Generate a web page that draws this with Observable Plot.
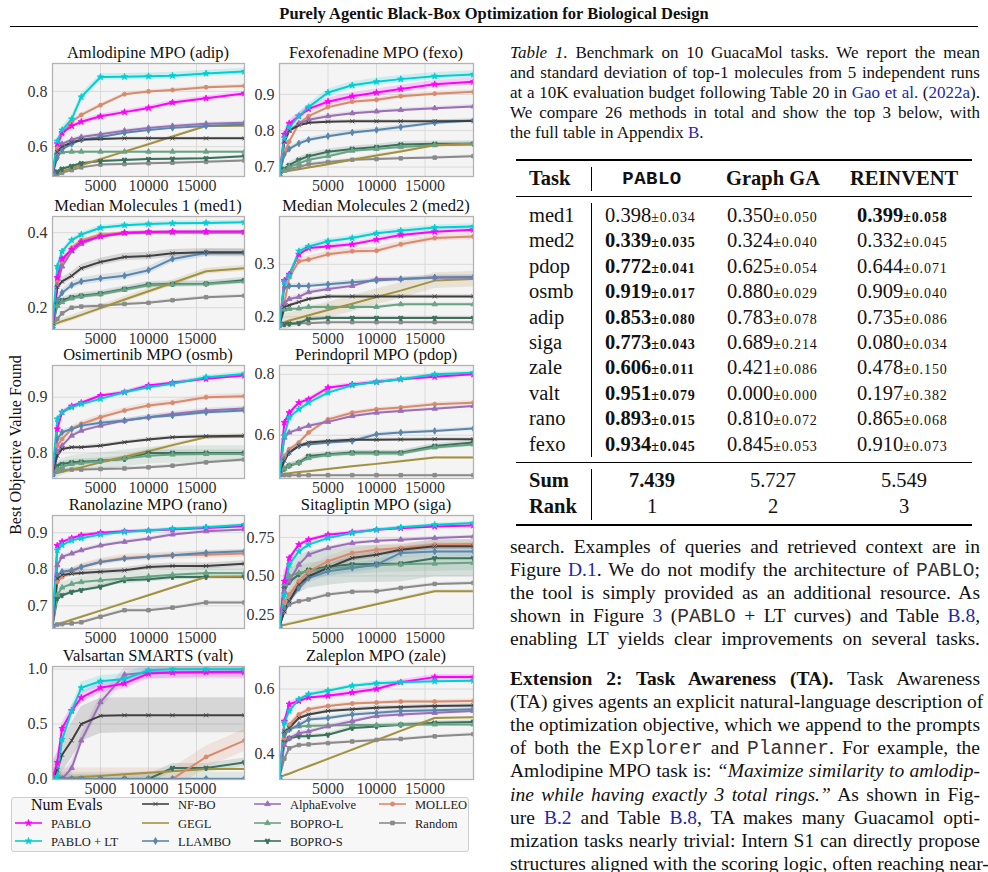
<!DOCTYPE html>
<html><head><meta charset="utf-8">
<script src="https://cdn.jsdelivr.net/npm/d3@7"></script>
<script src="https://cdn.jsdelivr.net/npm/@observablehq/plot@0.6"></script>
<style>
html,body{margin:0;padding:0;background:#fff;}
#page{position:relative;width:988px;height:872px;overflow:hidden;font-family:"Liberation Serif","Times New Roman",serif;color:#111;}
.abs{position:absolute;}
.jl{position:absolute;left:510px;width:470px;white-space:nowrap;text-align:justify;text-align-last:justify;}
.mono{font-family:"Liberation Mono","DejaVu Sans Mono",monospace;color:#333;}
.lnk{color:#2626a8;}
.sd{font-size:14px;letter-spacing:0.9px;}
</style></head><body><div id="page"></div><script>
// ---------------- DATA ----------------
const evals = [0, 500, 1000, 2000, 3000, 5000, 7500, 10000, 12500, 16000, 20000];
const methods = ["PABLO", "PABLO + LT", "NF-BO", "GEGL", "LLAMBO", "AlphaEvolve", "BOPRO-L", "BOPRO-S", "MOLLEO", "Random"];
const colors = ["#ff00ff", "#00cfd2", "#404040", "#a3913f", "#5a86ad", "#9a6fb8", "#6aa383", "#3b715d", "#d98a6c", "#8a8a8a"];
const symbolsList = ["star", "star", "times", "circle", "diamond", "triangle", "triangle", "wye", "circle", "square"];

const taskKeys = ["adip", "fexo", "med1", "med2", "osmb", "pdop", "rano", "siga", "valt", "zale"];
const taskTitles = ["Amlodipine MPO (adip)", "Fexofenadine MPO (fexo)", "Median Molecules 1 (med1)", "Median Molecules 2 (med2)", "Osimertinib MPO (osmb)", "Perindopril MPO (pdop)", "Ranolazine MPO (rano)", "Sitagliptin MPO (siga)", "Valsartan SMARTS (valt)", "Zaleplon MPO (zale)"];
const yTicks = [[0.6, 0.8], [0.7, 0.8, 0.9], [0.2, 0.4], [0.2, 0.3], [0.8, 0.9], [0.6, 0.8], [0.7, 0.8, 0.9], [0.25, 0.5, 0.75], [0, 0.5, 1], [0.4, 0.6]];
const yFormats = [".1f", ".1f", ".1f", ".1f", ".1f", ".1f", ".1f", ".2f", ".1f", ".1f"];
const yDomains = [[0.492, 0.901], [0.674, 0.985], [0.142, 0.443], [0.176, 0.391], [0.754, 0.957], [0.458, 0.829], [0.638, 0.947], [0.159, 0.892], [-0.005, 1.024], [0.319, 0.67]];
const xTicks = [5000, 10000, 15000];

// order: PABLO, PABLO+LT, NF-BO, GEGL, LLAMBO, AlphaEvolve, BOPRO-L, BOPRO-S, MOLLEO, Random
const adip = [
  [0.50, 0.61, 0.65, 0.675, 0.69, 0.71, 0.725, 0.74, 0.76, 0.775, 0.793],
  [0.50, 0.62, 0.66, 0.70, 0.78, 0.852, 0.853, 0.855, 0.857, 0.865, 0.872],
  [0.50, 0.58, 0.60, 0.615, 0.625, 0.628, 0.63, 0.63, 0.63, 0.63, 0.63],
  [0.50, 0.505, 0.511, 0.522, 0.533, 0.555, 0.582, 0.609, 0.637, 0.675, 0.676],
  [0.50, 0.56, 0.59, 0.61, 0.625, 0.635, 0.65, 0.66, 0.668, 0.675, 0.68],
  [0.50, 0.58, 0.61, 0.625, 0.635, 0.645, 0.658, 0.668, 0.675, 0.683, 0.687],
  [0.50, 0.575, 0.58, 0.582, 0.582, 0.582, 0.582, 0.582, 0.582, 0.582, 0.582],
  [0.50, 0.51, 0.52, 0.53, 0.54, 0.548, 0.552, 0.555, 0.556, 0.558, 0.565],
  [0.50, 0.60, 0.645, 0.69, 0.715, 0.75, 0.79, 0.80, 0.805, 0.815, 0.82],
  [0.49, 0.50, 0.505, 0.515, 0.525, 0.535, 0.537, 0.54, 0.542, 0.545, 0.55]
];
const fexo = [
  [0.68, 0.79, 0.82, 0.84, 0.86, 0.88, 0.895, 0.905, 0.915, 0.928, 0.935],
  [0.68, 0.78, 0.81, 0.84, 0.865, 0.905, 0.925, 0.935, 0.942, 0.95, 0.955],
  [0.68, 0.77, 0.80, 0.815, 0.822, 0.825, 0.826, 0.826, 0.826, 0.826, 0.827],
  [0.685, 0.687, 0.69, 0.694, 0.699, 0.708, 0.72, 0.732, 0.743, 0.76, 0.762],
  [0.68, 0.735, 0.75, 0.765, 0.775, 0.785, 0.795, 0.802, 0.81, 0.822, 0.828],
  [0.68, 0.77, 0.80, 0.82, 0.83, 0.84, 0.848, 0.853, 0.857, 0.862, 0.867],
  [0.68, 0.69, 0.70, 0.71, 0.72, 0.73, 0.745, 0.75, 0.755, 0.76, 0.765],
  [0.68, 0.695, 0.705, 0.72, 0.73, 0.742, 0.75, 0.755, 0.762, 0.764, 0.764],
  [0.68, 0.74, 0.77, 0.82, 0.84, 0.865, 0.88, 0.885, 0.895, 0.902, 0.907],
  [0.68, 0.692, 0.695, 0.70, 0.708, 0.714, 0.72, 0.722, 0.724, 0.726, 0.73]
];
const med1 = [
  [0.15, 0.28, 0.33, 0.355, 0.375, 0.39, 0.40, 0.402, 0.403, 0.403, 0.403],
  [0.15, 0.31, 0.35, 0.38, 0.395, 0.413, 0.42, 0.423, 0.425, 0.426, 0.428],
  [0.15, 0.255, 0.27, 0.285, 0.305, 0.322, 0.335, 0.338, 0.345, 0.348, 0.348],
  [0.155, 0.159, 0.164, 0.172, 0.181, 0.199, 0.222, 0.244, 0.266, 0.297, 0.305],
  [0.15, 0.22, 0.24, 0.26, 0.27, 0.278, 0.285, 0.30, 0.33, 0.346, 0.345],
  [0.15, 0.26, 0.31, 0.35, 0.37, 0.39, 0.398, 0.40, 0.40, 0.40, 0.40],
  [0.15, 0.205, 0.215, 0.225, 0.23, 0.236, 0.248, 0.26, 0.262, 0.263, 0.27],
  [0.15, 0.21, 0.22, 0.228, 0.232, 0.238, 0.25, 0.262, 0.263, 0.264, 0.273],
  [0.15, 0.27, 0.32, 0.36, 0.38, 0.395, 0.40, 0.402, 0.402, 0.402, 0.402],
  [0.15, 0.17, 0.185, 0.20, 0.203, 0.205, 0.21, 0.213, 0.22, 0.228, 0.232]
];
const med2 = [
  [0.185, 0.269, 0.281, 0.319, 0.331, 0.334, 0.338, 0.347, 0.356, 0.362, 0.366],
  [0.185, 0.266, 0.278, 0.325, 0.334, 0.344, 0.35, 0.359, 0.364, 0.37, 0.372],
  [0.185, 0.219, 0.222, 0.228, 0.234, 0.239, 0.239, 0.239, 0.239, 0.239, 0.239],
  [0.188, 0.19, 0.193, 0.198, 0.203, 0.213, 0.225, 0.238, 0.25, 0.269, 0.272],
  [0.185, 0.256, 0.259, 0.259, 0.259, 0.262, 0.266, 0.269, 0.272, 0.275, 0.276],
  [0.185, 0.225, 0.234, 0.238, 0.247, 0.253, 0.259, 0.272, 0.272, 0.275, 0.275],
  [0.185, 0.214, 0.215, 0.216, 0.219, 0.219, 0.219, 0.219, 0.224, 0.224, 0.224],
  [0.185, 0.186, 0.187, 0.188, 0.196, 0.198, 0.198, 0.198, 0.198, 0.198, 0.198],
  [0.185, 0.225, 0.275, 0.306, 0.309, 0.319, 0.325, 0.326, 0.338, 0.35, 0.353],
  [0.185, 0.186, 0.187, 0.188, 0.188, 0.19, 0.19, 0.19, 0.19, 0.19, 0.19]
];
const osmb = [
  [0.762, 0.843, 0.873, 0.884, 0.89, 0.903, 0.909, 0.921, 0.926, 0.933, 0.939],
  [0.762, 0.861, 0.873, 0.882, 0.888, 0.897, 0.909, 0.918, 0.924, 0.936, 0.942],
  [0.762, 0.795, 0.807, 0.81, 0.81, 0.813, 0.819, 0.824, 0.828, 0.83, 0.831],
  [0.762, 0.764, 0.766, 0.77, 0.774, 0.783, 0.793, 0.803, 0.814, 0.828, 0.829],
  [0.762, 0.825, 0.837, 0.843, 0.849, 0.854, 0.858, 0.864, 0.867, 0.873, 0.876],
  [0.762, 0.801, 0.813, 0.831, 0.84, 0.849, 0.858, 0.864, 0.87, 0.876, 0.88],
  [0.762, 0.77, 0.775, 0.78, 0.782, 0.785, 0.79, 0.795, 0.797, 0.798, 0.798],
  [0.762, 0.777, 0.78, 0.783, 0.784, 0.786, 0.789, 0.80, 0.80, 0.80, 0.80],
  [0.762, 0.813, 0.825, 0.843, 0.852, 0.864, 0.876, 0.885, 0.89, 0.90, 0.902],
  [0.762, 0.768, 0.769, 0.77, 0.77, 0.771, 0.772, 0.774, 0.777, 0.783, 0.788]
];
const pdop = [
  [0.472, 0.642, 0.674, 0.707, 0.718, 0.756, 0.767, 0.775, 0.784, 0.792, 0.80],
  [0.472, 0.598, 0.658, 0.685, 0.707, 0.74, 0.764, 0.775, 0.784, 0.80, 0.805],
  [0.472, 0.516, 0.543, 0.565, 0.576, 0.581, 0.585, 0.585, 0.586, 0.587, 0.587],
  [0.472, 0.474, 0.475, 0.479, 0.482, 0.489, 0.498, 0.506, 0.515, 0.527, 0.527],
  [0.472, 0.521, 0.543, 0.565, 0.57, 0.576, 0.581, 0.603, 0.609, 0.614, 0.622],
  [0.472, 0.592, 0.609, 0.62, 0.631, 0.644, 0.663, 0.674, 0.68, 0.687, 0.696],
  [0.472, 0.49, 0.50, 0.51, 0.525, 0.535, 0.54, 0.54, 0.54, 0.56, 0.57],
  [0.472, 0.49, 0.50, 0.51, 0.532, 0.538, 0.543, 0.543, 0.543, 0.565, 0.576],
  [0.472, 0.532, 0.554, 0.576, 0.609, 0.652, 0.674, 0.685, 0.691, 0.702, 0.707],
  [0.469, 0.469, 0.469, 0.469, 0.469, 0.469, 0.469, 0.469, 0.469, 0.469, 0.469]
];
const rano = [
  [0.645, 0.865, 0.875, 0.885, 0.893, 0.90, 0.904, 0.906, 0.909, 0.913, 0.918],
  [0.645, 0.852, 0.866, 0.879, 0.885, 0.895, 0.902, 0.906, 0.911, 0.915, 0.922],
  [0.645, 0.775, 0.784, 0.788, 0.79, 0.793, 0.797, 0.806, 0.809, 0.809, 0.815],
  [0.645, 0.649, 0.653, 0.662, 0.67, 0.687, 0.708, 0.729, 0.75, 0.779, 0.78],
  [0.645, 0.784, 0.793, 0.797, 0.806, 0.82, 0.829, 0.834, 0.838, 0.845, 0.849],
  [0.645, 0.811, 0.834, 0.843, 0.852, 0.865, 0.875, 0.884, 0.895, 0.904, 0.909],
  [0.645, 0.73, 0.75, 0.76, 0.765, 0.77, 0.775, 0.78, 0.785, 0.79, 0.79],
  [0.645, 0.72, 0.729, 0.738, 0.743, 0.752, 0.77, 0.773, 0.779, 0.779, 0.779],
  [0.645, 0.765, 0.779, 0.793, 0.806, 0.82, 0.831, 0.834, 0.838, 0.84, 0.843],
  [0.645, 0.649, 0.65, 0.652, 0.655, 0.67, 0.688, 0.688, 0.695, 0.709, 0.709]
];
const siga = [
  [0.175, 0.465, 0.616, 0.703, 0.735, 0.767, 0.784, 0.80, 0.81, 0.821, 0.828],
  [0.175, 0.379, 0.573, 0.659, 0.703, 0.746, 0.778, 0.80, 0.815, 0.832, 0.843],
  [0.175, 0.27, 0.336, 0.444, 0.498, 0.552, 0.616, 0.638, 0.67, 0.692, 0.692],
  [0.175, 0.182, 0.189, 0.203, 0.217, 0.246, 0.281, 0.316, 0.352, 0.401, 0.401],
  [0.175, 0.29, 0.336, 0.422, 0.487, 0.53, 0.552, 0.573, 0.649, 0.659, 0.659],
  [0.175, 0.40, 0.465, 0.573, 0.638, 0.681, 0.713, 0.728, 0.735, 0.746, 0.756],
  [0.175, 0.45, 0.50, 0.52, 0.53, 0.55, 0.56, 0.57, 0.575, 0.58, 0.585],
  [0.175, 0.42, 0.46, 0.51, 0.54, 0.56, 0.575, 0.578, 0.58, 0.615, 0.615],
  [0.175, 0.33, 0.379, 0.465, 0.53, 0.595, 0.649, 0.67, 0.681, 0.703, 0.707],
  [0.175, 0.27, 0.315, 0.336, 0.347, 0.379, 0.397, 0.401, 0.422, 0.448, 0.455]
];
const valt = [
  [0.0, 0.15, 0.46, 0.62, 0.74, 0.83, 0.87, 0.96, 0.97, 0.975, 0.976],
  [0.0, 0.02, 0.36, 0.62, 0.83, 0.89, 0.91, 0.99, 1.0, 1.0, 1.0],
  [0.0, 0.08, 0.22, 0.35, 0.50, 0.575, 0.58, 0.58, 0.58, 0.58, 0.58],
  [0.0, 0.003, 0.006, 0.011, 0.017, 0.028, 0.042, 0.056, 0.07, 0.09, 0.09],
  [0.0, 0.0, 0.0, 0.0, 0.0, 0.0, 0.0, 0.0, 0.0, 0.0, 0.0],
  [0.0, 0.0, 0.0, 0.10, 0.35, 0.70, 0.95, 0.97, 0.97, 0.97, 0.97],
  [0.0, 0.0, 0.0, 0.0, 0.0, 0.0, 0.0, 0.0, 0.0, 0.0, 0.0],
  [0.0, 0.0, 0.0, 0.0, 0.0, 0.0, 0.0, 0.0, 0.10, 0.10, 0.15],
  [0.0, 0.0, 0.0, 0.0, 0.0, 0.0, 0.0, 0.0, 0.0, 0.20, 0.35],
  [0.0, 0.0, 0.0, 0.0, 0.0, 0.0, 0.0, 0.0, 0.0, 0.0, 0.0]
];
const zale = [
  [0.326, 0.50, 0.553, 0.563, 0.574, 0.579, 0.589, 0.60, 0.621, 0.637, 0.637],
  [0.326, 0.495, 0.532, 0.568, 0.584, 0.595, 0.61, 0.618, 0.621, 0.624, 0.626],
  [0.326, 0.468, 0.479, 0.51, 0.521, 0.532, 0.537, 0.542, 0.544, 0.547, 0.549],
  [0.326, 0.332, 0.337, 0.349, 0.36, 0.383, 0.412, 0.441, 0.47, 0.51, 0.512],
  [0.326, 0.458, 0.474, 0.489, 0.505, 0.51, 0.521, 0.526, 0.532, 0.534, 0.537],
  [0.326, 0.426, 0.447, 0.463, 0.468, 0.484, 0.50, 0.516, 0.521, 0.526, 0.532],
  [0.326, 0.468, 0.475, 0.484, 0.486, 0.487, 0.488, 0.488, 0.489, 0.49, 0.49],
  [0.326, 0.437, 0.447, 0.453, 0.453, 0.458, 0.479, 0.484, 0.489, 0.495, 0.498],
  [0.326, 0.447, 0.489, 0.521, 0.537, 0.547, 0.555, 0.558, 0.561, 0.561, 0.563],
  [0.326, 0.384, 0.416, 0.426, 0.428, 0.432, 0.437, 0.442, 0.445, 0.453, 0.46]
];
// standard-deviation band half widths (per method)
const adipBand = [0.008, 0.012, 0.004, 0.004, 0.005, 0.005, 0.004, 0.004, 0.006, 0.004];
const fexoBand = [0.01, 0.01, 0.004, 0.004, 0.006, 0.005, 0.005, 0.008, 0.006, 0.004];
const med1Band = [0.004, 0.006, 0.01, 0.008, 0.01, 0.004, 0.006, 0.008, 0.004, 0.004];
const med2Band = [0.004, 0.005, 0.003, 0.015, 0.004, 0.004, 0.003, 0.003, 0.006, 0.002];
const osmbBand = [0.003, 0.004, 0.003, 0.003, 0.004, 0.004, 0.015, 0.005, 0.005, 0.003];
const pdopBand = [0.006, 0.006, 0.005, 0.003, 0.006, 0.005, 0.008, 0.008, 0.006, 0.003];
const ranoBand = [0.004, 0.004, 0.008, 0.003, 0.006, 0.005, 0.015, 0.006, 0.01, 0.004];
const sigaBand = [0.01, 0.01, 0.02, 0.01, 0.03, 0.01, 0.05, 0.12, 0.03, 0.01];
const valtBand = [0.05, 0.05, 0.16, 0.01, 0.01, 0.06, 0.06, 0.04, 0.1, 0.01];
const zaleBand = [0.008, 0.006, 0.006, 0.003, 0.006, 0.006, 0.006, 0.006, 0.006, 0.004];

// table
const tblTasks = ["med1", "med2", "pdop", "osmb", "adip", "siga", "zale", "valt", "rano", "fexo"];
const pabloMean = ["0.398", "0.339", "0.772", "0.919", "0.853", "0.773", "0.606", "0.951", "0.893", "0.934"];
const pabloSd = ["0.034", "0.035", "0.041", "0.017", "0.080", "0.043", "0.011", "0.079", "0.015", "0.045"];
const pabloBold = [false, true, true, true, true, true, true, true, true, true];
const ggaMean = ["0.350", "0.324", "0.625", "0.880", "0.783", "0.689", "0.421", "0.000", "0.810", "0.845"];
const ggaSd = ["0.050", "0.040", "0.054", "0.029", "0.078", "0.214", "0.086", "0.000", "0.072", "0.053"];
const reinMean = ["0.399", "0.332", "0.644", "0.909", "0.735", "0.080", "0.478", "0.197", "0.865", "0.910"];
const reinSd = ["0.058", "0.045", "0.071", "0.040", "0.086", "0.034", "0.150", "0.382", "0.068", "0.073"];
const reinBold = [true, false, false, false, false, false, false, false, false, false];
const sums = ["7.439", "5.727", "5.549"];
const ranks = ["1", "2", "3"];

// ---------------- LAYOUT ----------------
const page = document.getElementById("page");
function add(html, style, cls) {
  const d = document.createElement("div");
  d.className = cls || "abs";
  d.innerHTML = html;
  Object.assign(d.style, style);
  page.appendChild(d);
  return d;
}
const taskData = {adip, fexo, med1, med2, osmb, pdop, rano, siga, valt, zale};
const taskBand = {adip: adipBand, fexo: fexoBand, med1: med1Band, med2: med2Band, osmb: osmbBand, pdop: pdopBand, rano: ranoBand, siga: sigaBand, valt: valtBand, zale: zaleBand};
const drawOrder = ["Random", "BOPRO-S", "BOPRO-L", "GEGL", "MOLLEO", "AlphaEvolve", "LLAMBO", "NF-BO", "PABLO", "PABLO + LT"];

// header
add("Purely Agentic Black-Box Optimization for Biological Design", {left: "0px", width: "988px", top: "3px", textAlign: "center", fontWeight: "bold", fontSize: "16.5px", lineHeight: "22px"});
add("", {left: "10px", width: "968px", top: "26px", height: "1px", background: "#000"});

const rowTop = [63, 216, 365, 515, 666];
const frameH = 113;
taskKeys.forEach((key, i) => {
  const r = Math.floor(i / 2), c = i % 2;
  const data = taskData[key], band = taskBand[key];
  const rows = [];
  for (const m of drawOrder) {
    const k = methods.indexOf(m);
    evals.forEach((x, j) => rows.push({x, y: data[k][j], b: band[k], m}));
  }
  const svgLeft = c ? 240 : 0, mL = c ? 39 : 52, W = c ? 234 : 246, mR = c ? 1 : 2;
  const mT = 6, mB = 26;
  const chart = Plot.plot({
    width: W, height: mT + frameH + mB,
    marginLeft: mL, marginRight: mR, marginTop: mT, marginBottom: mB,
    style: {fontFamily: "Liberation Serif, serif", fontSize: "16px", color: "#333", background: "none", overflow: "visible"},
    x: {domain: [0, 20000]},
    y: {domain: yDomains[i]},
    color: {domain: methods, range: colors},
    symbol: {domain: methods, range: symbolsList},
    marks: [
      Plot.frame({fill: "#f4f4f4", stroke: "none"}),
      Plot.gridX(xTicks, {stroke: "#dadada", strokeOpacity: 1}),
      Plot.gridY(yTicks[i], {stroke: "#dadada", strokeOpacity: 1}),
      Plot.areaY(rows, {x: "x", y1: d => d.y - d.b, y2: d => d.y + d.b, z: "m", fill: "m", fillOpacity: 0.16, clip: true}),
      Plot.line(rows, {x: "x", y: "y", z: "m", stroke: "m", strokeWidth: 2, clip: true}),
      Plot.dot(rows.filter(d => d.m !== "GEGL"), {x: "x", y: "y", symbol: "m", fill: "m", stroke: "m", r: 2, strokeWidth: 0.9, clip: true}),
      Plot.frame({stroke: "#b3b3b3", strokeWidth: 1.3}),
      Plot.axisX(xTicks, {tickSize: 0, tickPadding: 3, tickFormat: d3.format("d"), label: null}),
      Plot.axisY(yTicks[i], {tickSize: 0, tickPadding: 5, tickFormat: d3.format(yFormats[i]), label: null})
    ]
  });
  chart.style.position = "absolute";
  chart.style.left = svgLeft + "px";
  chart.style.top = (rowTop[r] - mT) + "px";
  page.appendChild(chart);
  const fl = svgLeft + mL, fw = W - mL - mR;
  add(taskTitles[i], {left: fl + "px", width: fw + "px", top: (rowTop[r] - 18) + "px", lineHeight: "16px", textAlign: "center", fontSize: "16.5px", whiteSpace: "nowrap", color: "#111"});
});

// y label
add("Best Objective Value Found", {left: "16px", top: "445px", transform: "translate(-50%,-50%) rotate(-90deg)", whiteSpace: "nowrap", fontSize: "16px", lineHeight: "18px"});

// legend
add("", {left: "11px", top: "797px", width: "458px", height: "55px", border: "1px solid #cfcfcf", borderRadius: "3px", background: "#f7f7f7", boxSizing: "border-box"});
add("Num Evals", {left: "31px", top: "795px", fontSize: "16px", lineHeight: "20px"});
const legendPos = [["PABLO", 15, 824], ["PABLO + LT", 15, 842], ["NF-BO", 142, 805], ["GEGL", 142, 824], ["LLAMBO", 142, 842],
  ["AlphaEvolve", 254, 805], ["BOPRO-L", 254, 824], ["BOPRO-S", 254, 842], ["MOLLEO", 379, 805], ["Random", 379, 824]];
const d3sym = {star: d3.symbolStar, times: d3.symbolTimes, circle: d3.symbolCircle, diamond: d3.symbolDiamond, triangle: d3.symbolTriangle, wye: d3.symbolWye, square: d3.symbolSquare};
legendPos.forEach(([m, x, y]) => {
  const k = methods.indexOf(m), col = colors[k];
  const mark = m === "GEGL" ? "" : `<path transform="translate(13.5,5)" d="${d3.symbol(d3sym[symbolsList[k]], 14)()}" fill="${col}" stroke="${col}" stroke-width="0.8"/>`;
  add(`<svg width="27" height="10"><line x1="0" x2="27" y1="5" y2="5" stroke="${col}" stroke-width="1.6"/>${mark}</svg>`, {left: x + "px", top: (y - 6) + "px", lineHeight: "0"});
  add(m, {left: (x + 36) + "px", top: (y - 9) + "px", fontSize: "12.5px", lineHeight: "18px", color: "#222"});
});

// caption
const capLines = [
  `<i>Table 1.</i> Benchmark on 10 GuacaMol tasks. We report the mean`,
  `and standard deviation of top-1 molecules from 5 independent runs`,
  `at a 10K evaluation budget following Table 20 in <span class="lnk">Gao et al.</span> (<span class="lnk">2022a</span>).`,
  `We compare 26 methods in total and show the top 3 below, with`,
  `the full table in Appendix <span class="lnk">B</span>.`
];
capLines.forEach((t, j) => {
  const d = add(t, {top: (53 + 20 * j - 10) + "px", fontSize: "17px", lineHeight: "20px"}, "jl");
  if (j === capLines.length - 1) d.style.textAlignLast = "left";
});

// table
add("", {left: "516px", width: "456px", top: "159px", height: "1.5px", background: "#000"});
add("", {left: "516px", width: "456px", top: "196px", height: "1px", background: "#000"});
add("", {left: "516px", width: "456px", top: "462px", height: "1px", background: "#000"});
add("", {left: "516px", width: "456px", top: "524px", height: "1.5px", background: "#000"});
add("", {left: "591px", width: "1px", top: "167px", height: "24px", background: "#000"});
add("", {left: "591px", width: "1px", top: "203px", height: "254px", background: "#000"});
add("", {left: "591px", width: "1px", top: "469px", height: "51px", background: "#000"});
const tfs = "20.5px";
add("<b>Task</b>", {left: "529px", top: "166px", fontSize: tfs, lineHeight: "24px"});
add(`<b class="mono" style="color:#111;letter-spacing:0.5px">PABLO</b>`, {left: "602px", width: "100px", textAlign: "center", top: "166px", fontSize: "19px", lineHeight: "24px"});
add("<b>Graph GA</b>", {left: "713px", width: "120px", textAlign: "center", top: "166px", fontSize: tfs, lineHeight: "24px"});
add("<b>REINVENT</b>", {left: "844px", width: "120px", textAlign: "center", top: "166px", fontSize: tfs, lineHeight: "24px"});
function cell(mean, sd, bold) {
  const a = `${mean}<span class="sd">±${sd}</span>`;
  return bold ? `<b>${a}</b>` : a;
}
tblTasks.forEach((t, j) => {
  const cy = 215 + 25.4 * j;
  const top = (cy - 12) + "px";
  add(t, {left: "529px", top, fontSize: tfs, lineHeight: "24px"});
  add(cell(pabloMean[j], pabloSd[j], pabloBold[j]), {left: "605px", top, fontSize: tfs, lineHeight: "24px", whiteSpace: "nowrap"});
  add(cell(ggaMean[j], ggaSd[j], false), {left: "727px", top, fontSize: tfs, lineHeight: "24px", whiteSpace: "nowrap"});
  add(cell(reinMean[j], reinSd[j], reinBold[j]), {left: "857px", top, fontSize: tfs, lineHeight: "24px", whiteSpace: "nowrap"});
});
[["Sum", sums, 480, [true, false, false]], ["Rank", ranks, 506, [false, false, false]]].forEach(([lab, vals, cy, bolds]) => {
  const top = (cy - 12) + "px";
  add(`<b>${lab}</b>`, {left: "529px", top, fontSize: tfs, lineHeight: "24px"});
  [652, 773, 904].forEach((cx, k) => {
    add(bolds[k] ? `<b>${vals[k]}</b>` : vals[k], {left: (cx - 50) + "px", width: "100px", textAlign: "center", top, fontSize: tfs, lineHeight: "24px"});
  });
});

// body text
const bodyLines1 = [
  `search. Examples of queries and retrieved context are in`,
  `Figure <span class="lnk">D.1</span>. We do not modify the architecture of <span class="mono">PABLO</span>;`,
  `the tool is simply provided as an additional resource. As`,
  `shown in Figure <span class="lnk">3</span> (<span class="mono">PABLO</span> + LT curves) and Table <span class="lnk">B.8</span>,`,
  `enabling LT yields clear improvements on several tasks.`
];
const bodyLines2 = [
  `<b>Extension 2: Task Awareness (TA).</b> Task Awareness`,
  `(TA) gives agents an explicit natural-language description of`,
  `the optimization objective, which we append to the prompts`,
  `of both the <span class="mono">Explorer</span> and <span class="mono">Planner</span>. For example, the`,
  `Amlodipine MPO task is: <i>“Maximize similarity to amlodip-</i>`,
  `<i>ine while having exactly 3 total rings.”</i> As shown in Fig-`,
  `ure <span class="lnk">B.2</span> and Table <span class="lnk">B.8</span>, TA makes many Guacamol opti-`,
  `mization tasks nearly trivial: Intern S1 can directly propose`,
  `structures aligned with the scoring logic, often reaching near-`
];
bodyLines1.forEach((t, j) => add(t, {top: (547 + 23 * j - 12) + "px", fontSize: "19.5px", lineHeight: "24px"}, "jl"));
bodyLines2.forEach((t, j) => add(t, {top: (679 + 23.1 * j - 12) + "px", fontSize: "19.5px", lineHeight: "24px"}, "jl"));
</script></body></html>
